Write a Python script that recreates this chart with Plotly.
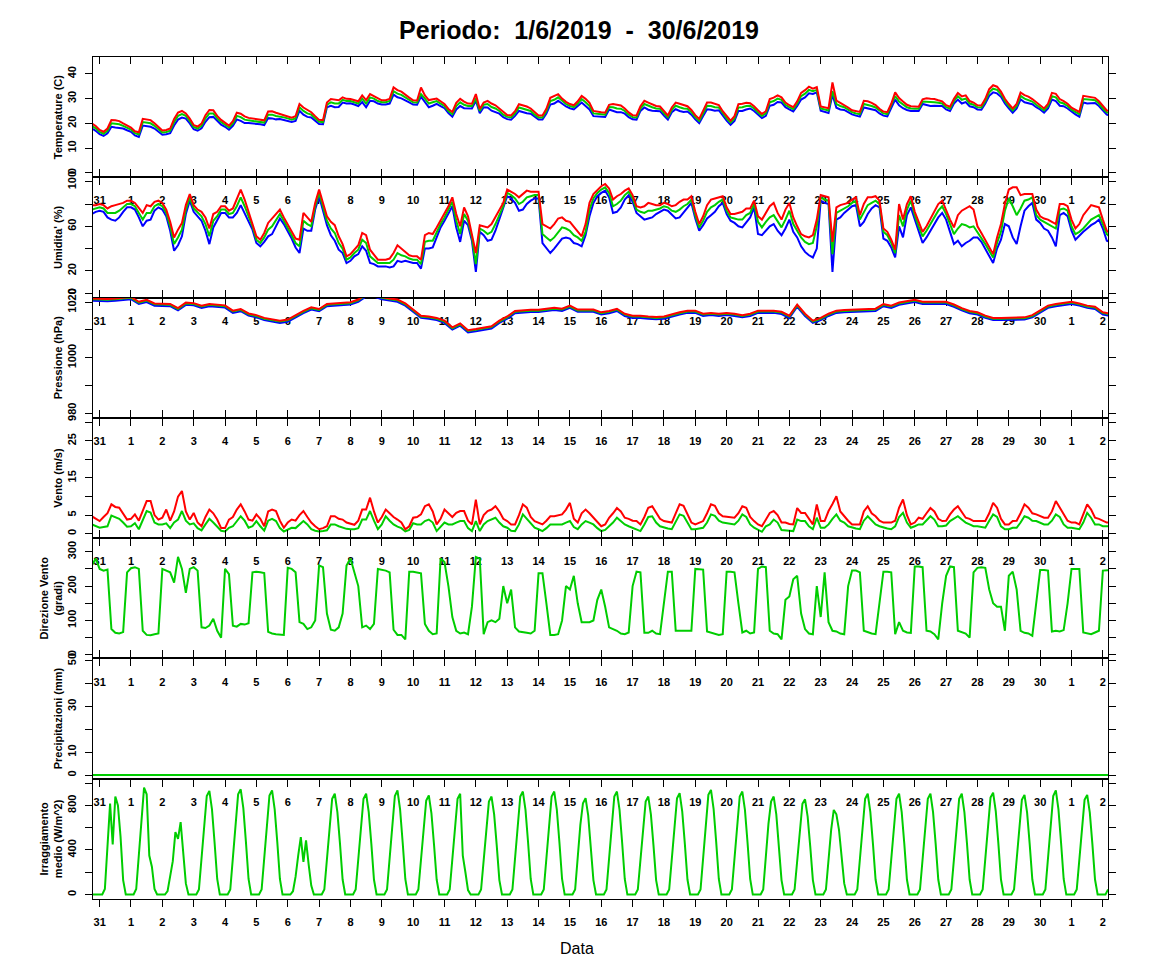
import pandas as pd
import plotly.graph_objects as go
from plotly.subplots import make_subplots

# values (UTC), 3-hourly series start 30/5 18:00
temp_min = [17.9, 17.0,
            15.6, 14.9, 16.0, 18.6, 18.3, 18.2, 17.9, 17.2,
            16.6, 15.1, 14.5, 19.1, 18.8, 18.6, 17.9, 16.5,
            15.4, 15.6, 16.0, 19.1, 21.5, 22.3, 21.9, 20.0,
            17.6, 17.0, 18.0, 20.6, 22.5, 22.6, 20.9, 19.5,
            18.6, 17.4, 19.0, 21.6, 21.0, 20.1, 20.1, 20.0,
            19.9, 19.6, 19.3, 22.1, 22.0, 21.6, 21.7, 21.4,
            21.1, 20.6, 21.0, 25.1, 23.5, 22.6, 22.4, 21.0,
            19.7, 19.6, 26.5, 27.1, 26.5, 26.6, 28.4, 28.0,
            28.1, 27.6, 27.0, 28.6, 26.5, 29.1, 28.9, 28.0,
            27.6, 27.6, 28.0, 31.6, 30.5, 30.1, 29.4, 28.5,
            27.6, 27.5, 30.8, 28.6, 26.5, 27.1, 27.9, 27.0,
            26.1, 24.1, 22.7, 25.6, 27.0, 26.1, 25.9, 26.0,
            29.1, 24.1, 26.5, 26.4, 25.1, 24.6, 23.9, 22.5,
            21.7, 21.5, 23.0, 25.0, 24.5, 24.1, 23.9, 22.5,
            21.5, 21.5, 24.0, 27.6, 28.0, 29.1, 27.9, 26.8,
            26.1, 25.6, 27.0, 28.4, 27.0, 25.6, 22.9, 22.7,
            22.8, 22.6, 25.6, 25.1, 24.5, 24.5, 23.9, 22.5,
            21.6, 21.5, 25.0, 26.4, 25.5, 25.1, 24.9, 24.9,
            23.1, 21.5, 24.5, 25.7, 25.0, 24.6, 24.8, 23.5,
            21.6, 20.1, 23.0, 25.7, 25.5, 25.1, 25.3, 23.0,
            21.1, 19.4, 21.0, 25.0, 25.0, 25.6, 26.0, 25.0,
            23.6, 22.1, 23.0, 27.1, 27.5, 28.6, 28.4, 26.5,
            25.6, 24.8, 27.0, 29.6, 30.5, 32.1, 31.9, 32.5,
            25.1, 24.6, 24.2, 31.6, 26.3, 25.6, 25.4, 24.5,
            23.6, 23.1, 22.7, 26.4, 26.0, 25.6, 25.3, 24.0,
            23.1, 22.8, 26.0, 29.6, 27.3, 26.1, 25.4, 25.0,
            25.1, 25.0, 27.8, 27.4, 27.0, 27.1, 27.2, 27.0,
            25.6, 25.0, 28.0, 29.6, 28.0, 28.6, 26.9, 26.5,
            25.6, 25.5, 28.0, 31.1, 32.5, 32.1, 30.7, 28.0,
            26.1, 24.3, 26.0, 29.7, 28.5, 28.1, 27.7, 26.5,
            25.6, 24.3, 26.0, 29.6, 29.0, 27.1, 26.9, 26.0,
            24.6, 23.6, 22.7, 28.4, 28.0, 28.1, 28.2, 27.0,
            25.1, 23.5, 23.0]

temp_avg = [19.0, 18.0,
            16.5, 15.8, 17.0, 20.0, 19.8, 19.6, 19.0, 18.2,
            17.5, 16.0, 15.5, 20.5, 20.3, 20.0, 19.0, 17.5,
            16.3, 16.5, 17.0, 20.5, 23.0, 23.7, 23.0, 21.0,
            18.5, 17.9, 19.0, 22.0, 24.0, 24.0, 22.0, 20.5,
            19.5, 18.3, 20.0, 23.0, 22.5, 21.5, 21.2, 21.0,
            20.8, 20.5, 20.3, 23.5, 23.5, 23.0, 22.8, 22.4,
            22.0, 21.5, 22.0, 26.5, 25.0, 24.0, 23.5, 22.0,
            20.6, 20.5, 27.5, 28.5, 28.0, 28.0, 29.5, 29.0,
            29.0, 28.5, 28.0, 30.0, 28.0, 30.5, 30.0, 29.0,
            28.5, 28.5, 29.0, 33.0, 32.0, 31.5, 30.5, 29.5,
            28.5, 28.4, 31.8, 30.0, 28.0, 28.5, 29.0, 28.0,
            27.0, 25.0, 23.7, 27.0, 28.5, 27.5, 27.0, 27.0,
            30.0, 25.0, 27.5, 27.8, 26.6, 26.0, 25.0, 23.5,
            22.6, 22.4, 24.0, 26.4, 26.0, 25.5, 25.0, 23.5,
            22.4, 22.4, 25.0, 29.0, 29.5, 30.5, 29.0, 27.8,
            27.0, 26.5, 28.0, 29.8, 28.5, 27.0, 24.0, 23.7,
            23.7, 23.5, 26.6, 26.5, 26.0, 25.9, 25.0, 23.5,
            22.5, 22.4, 26.0, 27.8, 27.0, 26.5, 26.0, 25.9,
            24.0, 22.4, 25.5, 27.1, 26.5, 26.0, 25.9, 24.5,
            22.5, 21.0, 24.0, 27.1, 27.0, 26.5, 26.4, 24.0,
            22.0, 20.3, 22.0, 26.4, 26.5, 27.0, 27.1, 26.0,
            24.5, 23.0, 24.0, 28.5, 29.0, 30.0, 29.5, 27.5,
            26.5, 25.7, 28.0, 31.0, 32.0, 33.5, 33.0, 33.5,
            26.0, 25.5, 25.2, 33.0, 27.8, 27.0, 26.5, 25.5,
            24.5, 24.0, 23.7, 27.8, 27.5, 27.0, 26.4, 25.0,
            24.0, 23.7, 27.0, 31.0, 28.8, 27.5, 26.5, 26.0,
            26.0, 25.9, 28.8, 28.8, 28.5, 28.5, 28.3, 28.0,
            26.5, 25.9, 29.0, 31.0, 29.5, 30.0, 28.0, 27.5,
            26.5, 26.4, 29.0, 32.5, 34.0, 33.5, 31.8, 29.0,
            27.0, 25.2, 27.0, 31.1, 30.0, 29.5, 28.8, 27.5,
            26.5, 25.2, 27.0, 31.0, 30.5, 28.5, 28.0, 27.0,
            25.5, 24.5, 23.7, 29.8, 29.5, 29.5, 29.3, 28.0,
            26.0, 24.4, 24.0]

temp_max = [20.0, 18.9,
            17.3, 16.6, 17.9, 21.3, 21.2, 20.9, 20.0, 19.1,
            18.3, 16.8, 16.4, 21.8, 21.7, 21.3, 20.0, 18.4,
            17.1, 17.3, 17.9, 21.8, 24.4, 25.0, 24.0, 21.9,
            19.3, 18.7, 19.9, 23.3, 25.4, 25.3, 23.0, 21.4,
            20.3, 19.1, 20.9, 24.3, 23.9, 22.8, 22.2, 21.9,
            21.6, 21.3, 21.2, 24.8, 24.9, 24.3, 23.8, 23.3,
            22.8, 22.3, 22.9, 27.8, 26.4, 25.3, 24.5, 22.9,
            21.4, 21.3, 28.4, 29.8, 29.4, 29.3, 30.5, 29.9,
            29.8, 29.3, 28.9, 31.3, 29.4, 31.8, 31.0, 29.9,
            29.3, 29.3, 29.9, 34.5, 33.4, 32.8, 31.5, 30.4,
            29.3, 29.2, 34.5, 31.3, 29.4, 29.8, 30.0, 28.9,
            27.8, 25.8, 24.6, 28.3, 29.9, 28.8, 28.0, 27.9,
            31.8, 25.8, 28.4, 29.1, 28.0, 27.3, 26.0, 24.4,
            23.4, 23.2, 24.9, 27.7, 27.4, 26.8, 26.0, 24.4,
            23.2, 23.2, 25.9, 30.3, 30.9, 31.8, 30.0, 28.7,
            27.8, 27.3, 28.9, 31.1, 29.9, 28.3, 25.0, 24.6,
            24.5, 24.3, 27.5, 27.8, 27.4, 27.2, 26.0, 24.4,
            23.3, 23.2, 26.9, 29.1, 28.4, 27.8, 27.0, 26.8,
            24.8, 23.2, 26.4, 28.4, 27.9, 27.3, 26.9, 25.4,
            23.3, 21.8, 24.9, 28.4, 28.4, 27.8, 27.4, 24.9,
            22.8, 21.1, 22.9, 27.7, 27.9, 28.3, 28.1, 26.9,
            25.3, 23.8, 24.9, 29.8, 30.4, 31.3, 30.5, 28.4,
            27.3, 26.5, 28.9, 32.3, 33.4, 34.8, 34.0, 34.6,
            26.8, 26.3, 26.1, 36.5, 29.2, 28.3, 27.5, 26.4,
            25.3, 24.8, 24.6, 29.1, 28.9, 28.3, 27.4, 25.9,
            24.8, 24.5, 27.9, 32.5, 30.2, 28.8, 27.5, 26.9,
            26.8, 26.7, 29.7, 30.1, 29.9, 29.8, 29.3, 28.9,
            27.3, 26.7, 29.9, 32.3, 30.9, 31.3, 29.0, 28.4,
            27.3, 27.2, 29.9, 33.8, 35.4, 34.8, 32.8, 29.9,
            27.8, 26.0, 27.9, 32.4, 31.4, 30.8, 29.8, 28.4,
            27.3, 26.0, 27.9, 32.3, 31.9, 29.8, 29.0, 27.9,
            26.3, 25.3, 24.6, 31.1, 30.9, 30.8, 30.3, 28.9,
            26.8, 25.2, 24.9]

hum_min = [71, 73,
           74, 73, 68, 66, 65, 68, 73, 77,
           77, 75, 68, 60, 65, 66, 74, 77,
           75, 69, 56, 38, 43, 51, 71, 83,
           73, 69, 65, 56, 44, 59, 65, 72,
           72, 68, 68, 72, 79, 72, 65, 57,
           45, 42, 46, 51, 53, 60, 67, 62,
           56, 49, 41, 36, 58, 56, 56, 75,
           87, 75, 61, 52, 47, 39, 36, 27,
           29, 33, 35, 42, 38, 27, 26, 24,
           24, 24, 23, 24, 29, 28, 29, 28,
           27, 27, 22, 40, 40, 41, 51, 59,
           65, 72, 78, 59, 46, 65, 61, 47,
           19, 55, 52, 47, 48, 56, 66, 75,
           87, 85, 81, 74, 75, 80, 83, 85,
           85, 45, 40, 36, 40, 45, 49, 50,
           49, 45, 44, 42, 52, 69, 81, 87,
           90, 92, 86, 72, 73, 77, 84, 88,
           82, 72, 69, 66, 67, 68, 71, 73,
           75, 74, 70, 67, 68, 72, 76, 81,
           67, 56, 61, 67, 70, 73, 78, 81,
           71, 65, 63, 60, 59, 64, 68, 77,
           53, 52, 56, 60, 62, 56, 52, 58,
           66, 55, 50, 42, 37, 34, 32, 40,
           83, 81, 80, 19, 66, 68, 72, 75,
           78, 79, 60, 64, 71, 76, 79, 77,
           49, 47, 41, 32, 60, 50, 70, 77,
           66, 56, 45, 50, 56, 62, 68, 72,
           66, 55, 44, 47, 42, 45, 47, 50,
           50, 46, 40, 34, 27, 40, 48, 62,
           60, 50, 44, 60, 74, 78, 81, 66,
           63, 58, 56, 50, 42, 70, 72, 69,
           56, 48, 52, 55, 58, 61, 63, 66,
           58, 47, 46]

hum_avg = [75, 76,
           77, 76, 72, 72, 72, 74, 77, 80,
           80, 78, 72, 66, 72, 72, 78, 80,
           78, 72, 60, 44, 50, 57, 75, 86,
           76, 72, 69, 62, 51, 65, 69, 75,
           75, 71, 72, 78, 86, 78, 69, 60,
           48, 45, 50, 57, 60, 66, 71, 65,
           59, 52, 45, 42, 65, 62, 60, 78,
           90, 78, 65, 58, 54, 45, 40, 30,
           32, 36, 39, 48, 45, 33, 30, 27,
           27, 27, 27, 30, 36, 34, 33, 31,
           30, 30, 26, 46, 47, 47, 55, 62,
           68, 75, 82, 65, 53, 71, 65, 50,
           26, 58, 56, 53, 55, 62, 70, 78,
           90, 88, 85, 80, 82, 86, 87, 88,
           88, 53, 50, 47, 50, 55, 59, 58,
           56, 52, 50, 47, 55, 75, 85, 90,
           93, 95, 90, 78, 80, 83, 88, 91,
           85, 75, 73, 72, 74, 74, 75, 76,
           78, 77, 74, 73, 75, 78, 80, 84,
           70, 59, 65, 73, 77, 79, 82, 84,
           74, 68, 67, 66, 66, 70, 72, 80,
           64, 59, 64, 68, 70, 65, 59, 66,
           74, 62, 56, 50, 46, 44, 45, 60,
           86, 84, 83, 35, 72, 74, 76, 78,
           81, 83, 66, 72, 79, 81, 83, 80,
           55, 52, 45, 36, 70, 60, 75, 83,
           70, 60, 51, 56, 62, 68, 74, 78,
           71, 62, 53, 58, 62, 61, 59, 60,
           55, 50, 44, 38, 32, 45, 55, 74,
           85, 78, 70, 76, 83, 84, 86, 70,
           66, 64, 62, 60, 58, 75, 76, 74,
           60, 53, 55, 58, 62, 66, 68, 70,
           62, 53, 50]

hum_max = [79, 79,
           80, 79, 76, 78, 79, 80, 81, 83,
           83, 81, 76, 72, 79, 78, 82, 83,
           81, 75, 64, 50, 57, 63, 79, 89,
           79, 75, 73, 68, 58, 71, 73, 78,
           78, 74, 76, 84, 93, 84, 73, 63,
           51, 48, 54, 63, 67, 72, 75, 68,
           62, 55, 49, 48, 72, 68, 64, 81,
           93, 81, 69, 64, 61, 51, 44, 33,
           35, 39, 43, 54, 52, 39, 34, 30,
           30, 30, 31, 36, 43, 40, 37, 34,
           33, 33, 30, 52, 54, 53, 59, 65,
           71, 78, 86, 71, 60, 77, 69, 53,
           36, 61, 60, 59, 62, 68, 74, 81,
           93, 91, 89, 86, 89, 92, 91, 91,
           91, 62, 60, 58, 62, 67, 68, 65,
           64, 60, 56, 51, 62, 81, 89, 93,
           96, 98, 94, 84, 87, 89, 92, 94,
           88, 78, 77, 78, 81, 80, 79, 79,
           81, 80, 78, 79, 82, 84, 84, 87,
           73, 62, 69, 79, 84, 85, 86, 87,
           77, 71, 71, 72, 73, 76, 76, 83,
           69, 66, 72, 78, 81, 72, 66, 75,
           81, 68, 60, 53, 51, 50, 52, 66,
           88, 87, 86, 46, 77, 79, 80, 81,
           84, 86, 70, 80, 86, 86, 87, 83,
           58, 55, 48, 39, 80, 66, 80, 87,
           73, 63, 55, 60, 67, 74, 80, 83,
           74, 66, 59, 70, 74, 76, 78, 75,
           60, 54, 48, 41, 35, 50, 62, 80,
           93, 95, 95, 88, 89, 89, 89, 75,
           69, 67, 66, 64, 62, 80, 80, 78,
           66, 58, 62, 70, 75, 79, 78, 77,
           66, 56, 53]

# pressure, 6-hourly from 30/5 18:00
pres_min = [1020.5,
            1020.3, 1020.3, 1020.5, 1020.7, 1021.0, 1019.3, 1020.0, 1018.7,
            1018.5, 1018.5, 1017.0, 1019.0, 1018.8, 1017.9, 1018.5, 1018.3,
            1018.0, 1016.1, 1016.7, 1015.1, 1014.5, 1013.5, 1013.0, 1012.5,
            1012.9, 1014.5, 1016.0, 1017.3, 1016.7, 1018.5, 1018.7, 1018.9,
            1019.1, 1020.1, 1022.0, 1022.0, 1021.0, 1020.5, 1020.1, 1018.7,
            1016.5, 1014.3, 1014.0, 1013.5, 1012.5, 1010.1, 1011.5, 1009.1,
            1009.5, 1009.9, 1010.5, 1012.5, 1014.0, 1016.0, 1016.3, 1016.4,
            1016.4, 1016.7, 1017.1, 1016.8, 1017.9, 1016.5, 1016.5, 1016.5,
            1015.5, 1016.0, 1016.8, 1015.0, 1014.3, 1014.3, 1014.0, 1013.8,
            1014.0, 1014.8, 1015.5, 1016.1, 1016.1, 1015.0, 1015.3, 1015.0,
            1015.3, 1015.0, 1014.5, 1015.0, 1016.1, 1016.1, 1016.1, 1015.7,
            1014.3, 1018.3, 1015.0, 1012.5, 1013.5, 1015.0, 1016.1, 1016.3,
            1016.4, 1016.4, 1016.5, 1016.8, 1018.5, 1017.9, 1019.0, 1019.5,
            1020.0, 1019.3, 1019.3, 1019.3, 1019.3, 1018.3, 1017.0, 1016.0,
            1015.5, 1014.3, 1013.5, 1013.5, 1013.5, 1013.5, 1013.7, 1014.5,
            1016.1, 1017.9, 1018.5, 1018.9, 1019.3, 1018.7, 1017.9, 1017.5,
            1015.5, 1015.0]

pres_avg = [1021.0,
            1020.8, 1020.8, 1021.0, 1021.2, 1021.5, 1019.8, 1020.5, 1019.2,
            1019.0, 1019.0, 1017.5, 1019.5, 1019.3, 1018.4, 1019.0, 1018.8,
            1018.5, 1016.6, 1017.2, 1015.6, 1015.0, 1014.0, 1013.5, 1013.0,
            1013.4, 1015.0, 1016.5, 1017.8, 1017.2, 1019.0, 1019.2, 1019.4,
            1019.6, 1020.6, 1022.5, 1022.5, 1021.5, 1021.0, 1020.6, 1019.2,
            1017.0, 1014.8, 1014.5, 1014.0, 1013.0, 1010.6, 1012.0, 1009.6,
            1010.0, 1010.4, 1011.0, 1013.0, 1014.5, 1016.5, 1016.8, 1016.9,
            1016.9, 1017.2, 1017.6, 1017.3, 1018.4, 1017.0, 1017.0, 1017.0,
            1016.0, 1016.5, 1017.3, 1015.5, 1014.8, 1014.8, 1014.5, 1014.3,
            1014.5, 1015.3, 1016.0, 1016.6, 1016.6, 1015.5, 1015.8, 1015.5,
            1015.8, 1015.5, 1015.0, 1015.5, 1016.6, 1016.6, 1016.6, 1016.2,
            1014.8, 1018.8, 1015.5, 1013.0, 1014.0, 1015.5, 1016.6, 1016.8,
            1016.9, 1016.9, 1017.0, 1017.3, 1019.0, 1018.4, 1019.5, 1020.0,
            1020.5, 1019.8, 1019.8, 1019.8, 1019.8, 1018.8, 1017.5, 1016.5,
            1016.0, 1014.8, 1014.0, 1014.0, 1014.0, 1014.0, 1014.2, 1015.0,
            1016.6, 1018.4, 1019.0, 1019.4, 1019.8, 1019.2, 1018.4, 1018.0,
            1016.0, 1015.5]

pres_max = [1021.3,
            1021.1, 1021.1, 1021.3, 1021.5, 1021.8, 1020.1, 1020.8, 1019.5,
            1019.3, 1019.3, 1017.8, 1019.8, 1019.6, 1018.7, 1019.3, 1019.1,
            1018.8, 1016.9, 1017.5, 1015.9, 1015.3, 1014.3, 1013.8, 1013.3,
            1013.7, 1015.3, 1016.8, 1018.1, 1017.5, 1019.3, 1019.5, 1019.7,
            1019.9, 1020.9, 1022.8, 1022.8, 1021.8, 1021.3, 1020.9, 1019.5,
            1017.3, 1015.1, 1014.8, 1014.3, 1013.3, 1010.9, 1012.3, 1009.9,
            1010.3, 1010.7, 1011.3, 1013.3, 1014.8, 1016.8, 1017.1, 1017.2,
            1017.2, 1017.5, 1017.9, 1017.6, 1018.7, 1017.3, 1017.3, 1017.3,
            1016.3, 1016.8, 1017.6, 1015.8, 1015.1, 1015.1, 1014.8, 1014.6,
            1014.8, 1015.6, 1016.3, 1016.9, 1016.9, 1015.8, 1016.1, 1015.8,
            1016.1, 1015.8, 1015.3, 1015.8, 1016.9, 1016.9, 1016.9, 1016.5,
            1015.1, 1019.1, 1015.8, 1013.3, 1014.3, 1015.8, 1016.9, 1017.1,
            1017.2, 1017.2, 1017.3, 1017.6, 1019.3, 1018.7, 1019.8, 1020.3,
            1020.8, 1020.1, 1020.1, 1020.1, 1020.1, 1019.1, 1017.8, 1016.8,
            1016.3, 1015.1, 1014.3, 1014.3, 1014.3, 1014.3, 1014.5, 1015.3,
            1016.9, 1018.7, 1019.3, 1019.7, 1020.1, 1019.5, 1018.7, 1018.3,
            1016.3, 1015.8]

wind_avg = [2.5, 2.0,
            1.6, 1.8, 2.0, 4.9, 4.5, 4.0, 3.0, 1.9,
            2.0, 2.8, 1.2, 3.5, 6.1, 5.7, 3.0, 2.5,
            2.5, 2.8, 1.5, 3.0, 3.8, 6.1, 3.5, 2.5,
            2.8, 1.5, 0.9, 2.5, 4.0, 3.0, 1.9, 0.8,
            0.6, 1.6, 2.0, 3.5, 4.7, 3.5, 1.6, 2.0,
            3.4, 2.0, 0.8, 3.5, 4.0, 3.4, 1.5, 0.6,
            1.2, 1.6, 1.5, 2.5, 3.4, 2.5, 1.2, 0.8,
            0.6, 0.7, 0.9, 2.5, 2.5, 2.0, 1.6, 1.3,
            1.2, 1.2, 1.5, 3.8, 3.8, 6.1, 3.5, 1.2,
            2.5, 4.7, 3.5, 2.5, 1.9, 1.5, 0.6, 1.0,
            2.8, 2.5, 2.5, 3.4, 3.8, 3.0, 0.7, 2.0,
            3.0, 2.5, 2.5, 3.0, 3.4, 3.4, 1.5, 0.7,
            3.4, 0.7, 2.5, 3.4, 3.8, 4.3, 3.0, 2.0,
            1.6, 0.8, 0.7, 2.5, 5.2, 4.0, 2.5, 1.6,
            1.2, 0.7, 1.5, 2.5, 2.5, 2.5, 2.5, 3.0,
            3.4, 1.8, 1.2, 2.5, 3.4, 3.0, 2.5, 1.5,
            0.7, 1.0, 2.0, 3.0, 4.3, 3.5, 2.5, 2.0,
            1.5, 1.2, 0.7, 2.5, 4.5, 4.7, 3.0, 2.0,
            1.6, 1.4, 1.2, 3.0, 5.2, 4.8, 3.0, 1.2,
            1.2, 1.4, 1.6, 3.0, 5.2, 4.8, 3.5, 3.0,
            2.8, 2.5, 2.5, 3.5, 5.2, 4.5, 2.5, 1.6,
            1.0, 0.5, 2.0, 2.5, 3.8, 3.0, 1.0, 0.8,
            0.8, 0.7, 3.8, 3.4, 3.4, 2.0, 1.2, 4.3,
            1.6, 1.6, 2.5, 4.0, 5.2, 3.5, 3.0, 2.0,
            1.6, 1.4, 1.2, 3.5, 4.7, 3.5, 2.5, 2.0,
            1.6, 1.4, 1.2, 2.0, 4.5, 5.6, 3.0, 1.6,
            2.0, 2.5, 2.5, 3.5, 4.7, 3.8, 2.0, 2.0,
            2.2, 3.4, 4.0, 4.7, 3.8, 3.0, 2.5, 2.0,
            2.0, 1.8, 1.6, 3.5, 5.2, 4.5, 2.0, 1.2,
            1.2, 1.6, 1.6, 3.0, 4.7, 4.3, 3.5, 3.4,
            3.0, 2.5, 2.5, 3.5, 5.2, 4.5, 2.5, 1.6,
            1.6, 1.4, 1.2, 3.0, 5.6, 4.3, 2.5, 2.5,
            2.0, 2.0, 2.0]

wind_gust = [4.7, 4.0,
             3.4, 4.5, 5.5, 7.9, 7.2, 7.0, 5.5, 3.8,
             4.0, 5.2, 3.5, 6.0, 8.8, 8.8, 5.0, 3.8,
             4.3, 6.5, 3.5, 6.0, 10.0, 11.5, 6.0, 3.8,
             5.6, 3.0, 2.0, 4.5, 6.5, 5.5, 3.8, 1.5,
             1.5, 3.8, 4.5, 6.5, 7.9, 6.0, 3.8, 3.5,
             5.2, 4.0, 2.0, 6.0, 6.5, 6.1, 3.5, 1.6,
             3.0, 3.8, 3.5, 5.0, 6.1, 4.5, 3.0, 2.0,
             1.2, 1.5, 2.0, 4.7, 4.7, 4.0, 3.8, 3.0,
             2.6, 2.4, 3.5, 6.5, 6.5, 9.7, 6.0, 3.0,
             4.5, 6.5, 5.5, 4.5, 3.8, 3.0, 1.2, 2.0,
             4.3, 4.5, 5.2, 7.4, 7.9, 6.0, 2.5, 4.0,
             6.5, 5.5, 4.5, 5.6, 6.1, 6.1, 3.5, 2.5,
             9.2, 2.5, 5.0, 6.1, 6.5, 7.4, 6.0, 4.0,
             3.4, 2.5, 2.5, 5.0, 7.9, 7.0, 4.5, 3.4,
             3.0, 2.5, 3.5, 4.7, 4.7, 5.0, 5.2, 6.5,
             8.3, 4.0, 3.0, 5.5, 6.5, 5.5, 4.3, 3.0,
             2.0, 2.5, 4.3, 5.5, 6.9, 6.0, 4.3, 4.0,
             3.5, 3.4, 2.5, 4.5, 7.0, 7.4, 5.5, 4.0,
             3.4, 3.2, 3.0, 5.5, 7.9, 7.5, 5.0, 3.0,
             2.5, 3.0, 3.4, 5.5, 7.9, 7.5, 5.5, 4.7,
             4.5, 4.3, 4.3, 5.5, 7.4, 7.0, 4.5, 3.4,
             2.5, 2.0, 4.0, 5.6, 6.1, 5.0, 3.0, 3.0,
             2.6, 2.5, 6.9, 5.6, 5.6, 4.0, 2.5, 7.9,
             3.4, 3.4, 6.1, 8.0, 10.1, 6.0, 4.7, 3.5,
             2.5, 2.5, 2.5, 6.0, 7.4, 5.5, 4.7, 3.5,
             3.0, 3.0, 3.0, 3.5, 7.0, 9.2, 5.0, 2.5,
             3.0, 4.3, 4.0, 5.5, 6.9, 6.0, 4.0, 3.4,
             3.5, 5.2, 6.5, 7.4, 6.0, 4.3, 4.0, 3.4,
             3.4, 3.4, 3.4, 5.5, 8.3, 7.0, 4.0, 2.5,
             2.5, 3.4, 3.5, 5.5, 7.9, 7.0, 5.5, 5.2,
             4.8, 4.3, 4.3, 6.0, 8.8, 7.0, 5.0, 3.5,
             3.0, 3.0, 2.5, 5.5, 7.9, 6.5, 4.3, 4.0,
             3.4, 3.0, 3.0]

wind_dir = [260, 280,
            250, 245, 248, 75, 64, 62, 66, 240,
            252, 255, 250, 70, 58, 57, 60, 62,
            250, 245, 240, 210, 285, 250, 180, 250,
            255, 245, 80, 78, 85, 105, 70, 50,
            250, 235, 85, 82, 90, 88, 92, 240,
            242, 240, 238, 67, 62, 60, 58, 58,
            253, 250, 240, 95, 90, 75, 80, 100,
            260, 255, 120, 73, 70, 80, 120, 260,
            280, 240, 200, 80, 85, 75, 90, 250,
            248, 245, 240, 73, 58, 58, 45, 242,
            242, 240, 237, 90, 70, 60, 62, 280,
            270, 200, 110, 70, 62, 65, 60, 140,
            285, 280, 60, 95, 100, 95, 105, 200,
            150, 190, 80, 68, 65, 64, 62, 70,
            237, 237, 150, 58, 58, 60, 100, 200,
            190, 230, 150, 95, 95, 95, 100, 160,
            190, 140, 80, 75, 70, 62, 60, 65,
            200, 242, 240, 64, 64, 70, 62, 60,
            150, 242, 242, 70, 70, 70, 72, 70,
            250, 250, 248, 68, 64, 62, 58, 60,
            242, 242, 240, 150, 65, 70, 62, 65,
            250, 257, 255, 70, 62, 60, 45, 160,
            170, 220, 230, 120, 75, 62, 60, 200,
            110, 240, 95, 70, 68, 62, 60, 200,
            245, 245, 240, 70, 65, 62, 60, 150,
            242, 242, 240, 60, 95, 70, 65, 64,
            257, 257, 255, 70, 68, 60, 45, 150,
            230, 257, 255, 70, 65, 62, 50, 240,
            253, 255, 253, 190, 150, 140, 140, 70,
            230, 242, 190, 70, 64, 62, 55, 150,
            247, 247, 245, 68, 70, 68, 72, 150,
            250, 250, 250, 65, 62, 60, 65, 70,
            245, 247, 247]

# daily rain totals, 30/5 .. 2/7
precip_mm = [0.0, 0.0, 0.0, 0.0, 0.0, 0.0, 0.0, 0.0, 0.0, 0.0, 0.0, 0.0,
             0.0, 0.0, 0.0, 0.0, 0.0, 0.0, 0.0, 0.0, 0.0, 0.0, 0.0, 0.0,
             0.0, 0.0, 0.0, 0.0, 0.0, 0.0, 0.0, 0.0, 0.0, 0.0]

# solar radiation, 2-hourly from 30/5 18:00
irradiance = [0, 0, 0,
              0, 0, 50, 400, 816, 450, 880, 800, 520, 130, 0, 0,
              0, 0, 50, 340, 680, 960, 900, 350, 250, 50, 0, 0,
              0, 0, 30, 150, 300, 560, 500, 650, 400, 100, 0, 0,
              0, 0, 45, 345, 670, 885, 930, 765, 465, 140, 0, 0,
              0, 0, 45, 350, 680, 900, 945, 775, 470, 140, 0, 0,
              0, 0, 45, 345, 675, 890, 935, 765, 470, 140, 0, 0,
              0, 0, 30, 160, 350, 516, 293, 487, 270, 80, 0, 0,
              0, 0, 45, 335, 650, 860, 905, 740, 455, 135, 0, 0,
              0, 0, 45, 335, 650, 860, 905, 740, 455, 135, 0, 0,
              0, 0, 45, 345, 670, 885, 935, 765, 465, 140, 0, 0,
              0, 0, 45, 330, 640, 845, 890, 730, 445, 135, 0, 0,
              0, 0, 45, 330, 650, 860, 905, 350, 200, 40, 0, 0,
              0, 0, 45, 325, 635, 835, 880, 720, 440, 130, 0, 0,
              0, 0, 45, 340, 665, 880, 925, 760, 465, 140, 0, 0,
              0, 0, 45, 340, 665, 880, 925, 760, 465, 140, 0, 0,
              0, 0, 45, 320, 625, 820, 865, 710, 430, 130, 0, 0,
              0, 0, 45, 340, 665, 880, 925, 760, 465, 140, 0, 0,
              0, 0, 45, 325, 635, 835, 880, 720, 440, 130, 0, 0,
              0, 0, 45, 335, 655, 865, 910, 745, 455, 135, 0, 0,
              0, 0, 45, 350, 675, 895, 940, 770, 470, 140, 0, 0,
              0, 0, 45, 340, 665, 880, 925, 760, 465, 140, 0, 0,
              0, 0, 45, 325, 635, 835, 880, 720, 440, 130, 0, 0,
              0, 0, 45, 315, 615, 815, 855, 700, 430, 130, 0, 0,
              0, 0, 45, 300, 580, 760, 720, 580, 350, 100, 0, 0,
              0, 0, 45, 335, 650, 860, 905, 740, 455, 135, 0, 0,
              0, 0, 45, 335, 650, 860, 905, 740, 455, 135, 0, 0,
              0, 0, 45, 335, 650, 860, 905, 740, 455, 135, 0, 0,
              0, 0, 45, 335, 650, 860, 905, 740, 455, 135, 0, 0,
              0, 0, 45, 340, 660, 870, 915, 750, 460, 135, 0, 0,
              0, 0, 45, 330, 645, 850, 895, 735, 450, 135, 0, 0,
              0, 0, 45, 345, 670, 885, 935, 765, 465, 140, 0, 0,
              0, 0, 45, 330, 645, 850, 895, 735, 450, 135, 0, 0,
              0, 0, 45]

day_labels = ['31', '1', '2', '3', '4', '5', '6', '7', '8', '9', '10', '11',
              '12', '13', '14', '15', '16', '17', '18', '19', '20', '21', '22',
              '23', '24', '25', '26', '27', '28', '29', '30', '1', '2']

temp_ticks = [0, 10, 20, 30, 40]
temp_ticktext = ['0', '10', '20', '30', '40']
hum_ticks = [0, 20, 40, 60, 80, 100]
hum_ticktext = ['0', '20', '', '60', '', '100']
pres_ticks = [980, 990, 1000, 1010, 1020]
pres_ticktext = ['980', '', '1000', '', '1020']
wind_ticks = [0, 5, 10, 15, 20, 25, 30]
wind_ticktext = ['0', '5', '', '15', '', '25', '']
dir_ticks = [0, 50, 100, 150, 200, 250, 300]
dir_ticktext = ['0', '', '100', '', '200', '', '300']
rain_ticks = [0, 10, 20, 30, 40, 50]
rain_ticktext = ['0', '10', '', '30', '', '50']
irr_ticks = [0, 200, 400, 600, 800, 1000]
irr_ticktext = ['0', '', '400', '', '800', '']

BLUE = '#0000ff'
GREEN = '#00cd00'
RED = '#ff0000'
FONT = 'Liberation Sans, Arial, Helvetica, sans-serif'
X_START = '2019-05-30 18:55'
X_END = '2019-07-02 03:56'


def times(series, freq, start='2019-05-30 18:00'):
    return pd.date_range(start, periods=len(series), freq=freq)


def add_line(fig, row, x, y, color):
    fig.add_trace(go.Scatter(x=x, y=y, mode='lines', line=dict(color=color, width=2),
                             showlegend=False, hoverinfo='skip'), row=row, col=1)


fig = make_subplots(rows=7, cols=1, shared_xaxes=True, vertical_spacing=0)

for series, color in [(temp_min, BLUE), (temp_avg, GREEN), (temp_max, RED)]:
    add_line(fig, 1, times(series, '3h'), series, color)
for series, color in [(hum_min, BLUE), (hum_avg, GREEN), (hum_max, RED)]:
    add_line(fig, 2, times(series, '3h'), series, color)
for series, color in [(pres_min, BLUE), (pres_avg, GREEN), (pres_max, RED)]:
    add_line(fig, 3, times(series, '6h'), series, color)
add_line(fig, 4, times(wind_avg, '3h'), wind_avg, GREEN)
add_line(fig, 4, times(wind_gust, '3h'), wind_gust, RED)
add_line(fig, 5, times(wind_dir, '3h'), wind_dir, GREEN)
add_line(fig, 6, times(precip_mm, 'D', '2019-05-30 12:00'), precip_mm, GREEN)
add_line(fig, 7, times(irradiance, '2h'), irradiance, GREEN)

day_ticks = pd.date_range('2019-05-31', periods=len(day_labels), freq='D')
tick_font = dict(family=FONT, size=11, color='black', weight='bold')

panels = [
    ('Temperature (C)', [-1.8, 46.8], temp_ticks, temp_ticktext),
    ("Umidita' (%)", [-4, 104], hum_ticks, hum_ticktext),
    ('Pressione (hPa)', [978.4, 1021.6], pres_ticks, pres_ticktext),
    ('Vento (m/s)', [-1.2, 31.2], wind_ticks, wind_ticktext),
    ('Direzione Vento<br>(gradi)', [-10.5, 339.5], dir_ticks, dir_ticktext),
    ('Precipitazioni (mm)', [-1.6, 51.0], rain_ticks, rain_ticktext),
    ('Irraggiamento<br>medio (W/m^2)', [-40, 1040], irr_ticks, irr_ticktext),
]

for row, (title, yrange, tvals, ttext) in enumerate(panels, start=1):
    fig.update_yaxes(row=row, col=1, range=yrange, tickvals=tvals, ticktext=ttext,
                     ticks='outside', ticklen=7, tickwidth=1, tickcolor='black',
                     showline=True, linecolor='black', linewidth=1, mirror='ticks',
                     showgrid=False, zeroline=False, tickangle=-90, tickfont=tick_font,
                     ticklabelstandoff=5,
                     title=dict(text=title, standoff=0,
                                font=dict(family=FONT, size=11, color='black', weight='bold')))
    fig.update_xaxes(row=row, col=1, type='date', range=[X_START, X_END],
                     tickvals=day_ticks, ticktext=day_labels, showticklabels=True,
                     ticks='outside', ticklen=7, tickwidth=1, tickcolor='black',
                     showline=True, linecolor='black', linewidth=1,
                     mirror=True if row in (1, 7) else 'ticks',
                     showgrid=False, zeroline=False, tickangle=0, tickfont=tick_font,
                     ticklabelstandoff=6)

# inward ticks along the top edge of the first panel
fig.add_trace(go.Scatter(x=[], y=[], xaxis='x8', yaxis='y', showlegend=False))
fig.update_layout(xaxis8=dict(overlaying='x', anchor='y', side='top', type='date',
                              range=[X_START, X_END], tickvals=day_ticks,
                              ticks='inside', ticklen=7, tickwidth=1, tickcolor='black',
                              showticklabels=False, showline=False, showgrid=False,
                              zeroline=False))

fig.add_annotation(text='Data', xref='paper', yref='paper', x=0.477, y=-0.071,
                   showarrow=False, font=dict(family=FONT, size=16, color='black'))

# the page body adds an 8 px offset, so the margins are shifted to compensate
fig.update_layout(
    width=1152, height=972,
    margin=dict(l=85, r=52, t=49, b=81),
    paper_bgcolor='white', plot_bgcolor='white',
    showlegend=False,
    title=dict(text='Periodo:\u00a0\u00a01/6/2019\u00a0\u00a0-\u00a0\u00a030/6/2019',
               x=0.4957, xanchor='center', y=0.977, yanchor='middle',
               font=dict(family=FONT, size=25, color='black', weight='bold')),
)

fig.write_html('out.html')
